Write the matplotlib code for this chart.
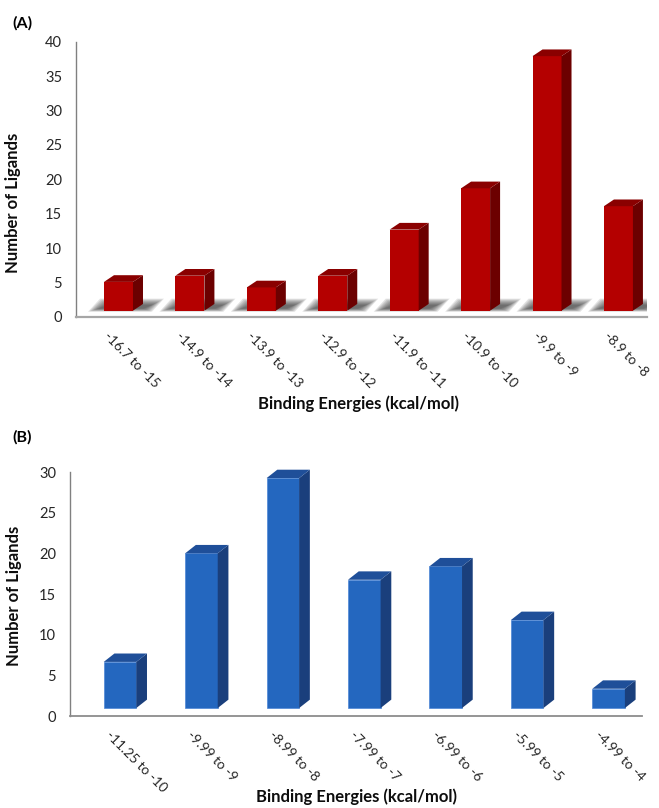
import matplotlib
matplotlib.use('Agg')
import matplotlib.pyplot as plt
from matplotlib.patches import Polygon
from matplotlib.transforms import ScaledTranslation

# ---------------- data ----------------
ranges_a = ['-16.7 to -15', '-14.9 to -14', '-13.9 to -13', '-12.9 to -12',
            '-11.9 to -11', '-10.9 to -10', '-9.9 to -9', '-8.9 to -8']
counts_a = [5.1, 6.0, 4.3, 6.0, 12.7, 18.7, 37.9, 16.1]
yticks_a = [0, 5, 10, 15, 20, 25, 30, 35, 40]

ranges_b = ['-11.25 to -10', '-9.99 to -9', '-8.99 to -8', '-7.99 to -7',
            '-6.99 to -6', '-5.99 to -5', '-4.99 to -4']
counts_b = [6.65, 20.0, 29.25, 16.75, 18.4, 11.8, 3.35]
yticks_b = [0, 5, 10, 15, 20, 25, 30]

xlabel = 'Binding Energies (kcal/mol)'
ylabel = 'Number of Ligands'

# ---------------- style ----------------
plt.rcParams['font.family'] = ['Lato', 'DejaVu Sans']
W, H = 659, 808
fig = plt.figure(figsize=(W / 100, H / 100), dpi=100)


def axes_px(left, right, y0, ytop):
    return fig.add_axes([left / W, 1 - y0 / H, (right - left) / W, (y0 - ytop) / H])


def draw_panel(ax, cats, vals, yticks, xlim, width, floor, dxp, dyp,
               front, side, top, shadow, ylab_xy, xlab_xy, lab_dx,
               bottom_color, bottom_lw, edge):
    n = len(vals)
    ax.set_xlim(*xlim)
    ax.set_ylim(yticks[0], yticks[-1])
    bbox = ax.get_position()
    xpx = (bbox.width * W) / (xlim[1] - xlim[0])
    ypx = (bbox.height * H) / (yticks[-1] - yticks[0])
    dx = dxp / xpx
    dy = dyp / ypx

    if shadow:
        for i in range(n):
            x0 = i - width / 2
            x1 = i + width / 2
            for k in range(8):
                s = k * 1.5
                yb = floor - 0.15 + s * 0.3 / ypx
                yt = floor + (12 - s * 0.6) / ypx
                bl = x0 - (16 - s) / xpx
                br = x1 + dx + (9 - s * 0.8) / xpx
                sh = (12 - s * 0.3) / xpx
                poly = Polygon([(bl, yb), (br, yb), (br + sh, yt), (bl + sh, yt)],
                               closed=True, facecolor='#2a2a2a', edgecolor='none',
                               alpha=0.13, zorder=2)
                ax.add_patch(poly)

    ax.bar(range(n), [v - floor for v in vals], bottom=floor, width=width,
           color=front, edgecolor=edge, linewidth=0.5 if edge != 'none' else 0, zorder=3)
    for i, v in enumerate(vals):
        x0 = i - width / 2
        x1 = i + width / 2
        ax.add_patch(Polygon([(x1, floor), (x1, v), (x1 + dx, v + dy), (x1 + dx, floor + dy)],
                             closed=True, facecolor=side, edgecolor='none', zorder=3,
                             clip_on=False))
        ax.add_patch(Polygon([(x0, v), (x1, v), (x1 + dx, v + dy), (x0 + dx, v + dy)],
                             closed=True, facecolor=top, edgecolor='none', zorder=3,
                             clip_on=False))

    for s in ['top', 'right']:
        ax.spines[s].set_visible(False)
    ax.spines['left'].set_color('#808080')
    ax.spines['left'].set_linewidth(1.0)
    ax.spines['bottom'].set_color(bottom_color)
    ax.spines['bottom'].set_linewidth(bottom_lw)

    ax.set_yticks(yticks)
    ax.tick_params(axis='y', length=0, pad=10, labelsize=10.5, labelcolor='#262626')
    ax.set_xticks(range(n))
    ax.set_xticklabels(cats, rotation=-45, ha='left', va='top', rotation_mode='anchor',
                       fontsize=9.8, color='#262626')
    ax.tick_params(axis='x', length=0, pad=9)
    off = ScaledTranslation(lab_dx / 100, 0, fig.dpi_scale_trans)
    for lab in ax.get_xticklabels():
        lab.set_transform(lab.get_transform() + off)

    ax.set_ylabel(ylabel, fontsize=12, fontweight='bold', color='#0d0d0d')
    ax.yaxis.set_label_coords(*ylab_xy)
    ax.set_xlabel(xlabel, fontsize=12, fontweight='bold', color='#0d0d0d', va='center')
    ax.xaxis.set_label_coords(*xlab_xy)


# Panel A
axA = axes_px(76, 647, 317, 41.7)
draw_panel(axA, ranges_a, counts_a, yticks_a, (-0.595, 7.40), 0.406, 0.92, 10, 6.7,
           '#b40000', '#6c0000', '#8a0000', True,
           (-0.096, 0.414), (0.494, -0.316), -8, '#a6a6a6', 1.6, 'none')

# Panel B
axB = axes_px(70, 642, 716, 472)
draw_panel(axB, ranges_b, counts_b, yticks_b, (-0.614, 6.41), 0.40, 0.98, 10.7, 8.4,
           '#2467bf', '#1a3f7c', '#1f4f99', False,
           (-0.084, 0.494), (0.5, -0.332), -8, '#8c8c8c', 1.3, '#4d86d6')

fig.text(12 / W, 1 - 23 / H, '(A)', fontsize=11.5, fontweight='bold', va='center', ha='left')
fig.text(12 / W, 1 - 437 / H, '(B)', fontsize=11.5, fontweight='bold', va='center', ha='left')

fig.savefig('out.png', dpi=100)
